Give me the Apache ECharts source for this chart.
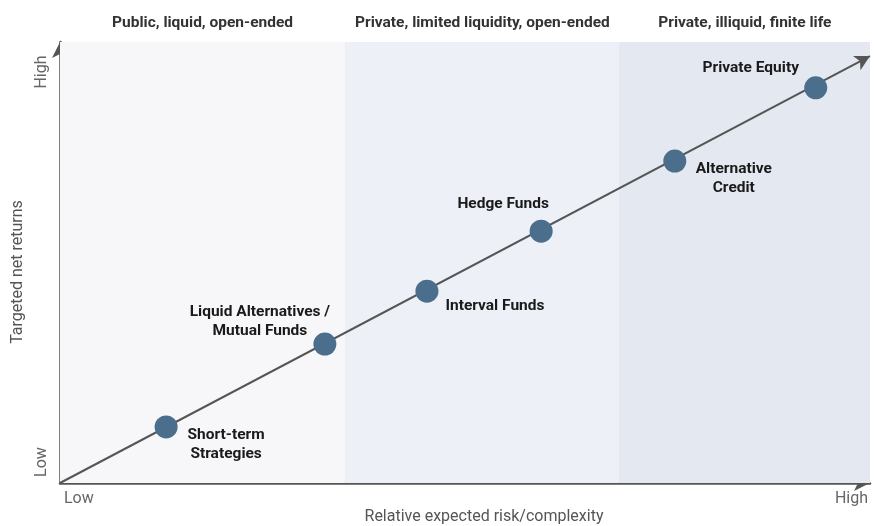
<!DOCTYPE html>
<html>
<head>
<meta charset="utf-8">
<script src="https://cdn.jsdelivr.net/npm/echarts@6/dist/echarts.min.js"></script>
<style>
  html, body { margin: 0; padding: 0; background: #fff; }
  #main { width: 874px; height: 526px; }
</style>
</head>
<body>
<div id="main"></div>
<script>
// 各类投资产品：风险/复杂度 (x) 与 目标净回报 (y)，0-100 相对刻度
var names = ['Short-term\nStrategies', 'Liquid Alternatives /\nMutual Funds', 'Interval Funds',
             'Hedge Funds', 'Alternative\nCredit', 'Private Equity'];
var riskValues = [13.1, 32.7, 45.3, 59.4, 75.9, 93.3];
var returnValues = [12.7, 31.5, 43.5, 57.1, 73.0, 89.6];
// 标签偏移（相对圆点）
var labelOffsets = [[60, 18], [-65, -22], [68, 15], [-38, -27], [59, 18], [-65, -20]];

// 三个区间
var bandNames = ['Public, liquid, open-ended', 'Private, limited liquidity, open-ended', 'Private, illiquid, finite life'];
var bandEdges = [0, 35.2, 69.1, 100];
var bandColors = ['#f7f7f9', '#edf0f7', '#e4e9f1'];

var trendEnd = [100, 96.8];
var axisEndLabels = ['Low', 'High'];

var myChart = echarts.init(document.getElementById('main'));

var gridLeft = 60, gridRight = 4, gridTop = 42, gridBottom = 43;
var plotW = 874 - gridLeft - gridRight;
var smallFont = '16px Roboto, sans-serif';

var points = [];
for (let i = 0; i < names.length; i++) {
  points.push({
    value: [riskValues[i], returnValues[i]],
    label: { formatter: names[i], offset: labelOffsets[i] }
  });
}

var areas = [];
for (let i = 0; i < bandNames.length; i++) {
  areas.push([
    { xAxis: bandEdges[i], itemStyle: { color: bandColors[i] } },
    { xAxis: bandEdges[i + 1] }
  ]);
}

// 区间标题
var headers = [];
for (let i = 0; i < bandNames.length; i++) {
  var cx = gridLeft + (bandEdges[i] + bandEdges[i + 1]) / 2 / 100 * plotW;
  headers.push({
    type: 'text', x: cx, y: 23,
    style: {
      text: bandNames[i], fill: '#333', align: 'center', verticalAlign: 'middle',
      font: 'bold 15.5px Roboto, sans-serif'
    }
  });
}

var option = {
  backgroundColor: '#fff',
  animation: false,
  grid: { left: gridLeft, right: gridRight, top: gridTop, bottom: gridBottom },
  xAxis: {
    type: 'value', min: 0, max: 100,
    splitLine: { show: false },
    axisTick: { show: false },
    axisLabel: { show: false },
    axisLine: { lineStyle: { color: '#555', width: 2.5 }, symbol: ['none', 'arrow'], symbolSize: [12, 16] }
  },
  yAxis: {
    type: 'value', min: 0, max: 100,
    splitLine: { show: false },
    axisTick: { show: false },
    axisLabel: { show: false },
    axisLine: { lineStyle: { color: '#555', width: 2.5 }, symbol: ['none', 'arrow'], symbolSize: [12, 16] }
  },
  graphic: headers.concat([
    { type: 'line', shape: { x1: gridLeft + bandEdges[1] / 100 * plotW, y1: gridTop, x2: gridLeft + bandEdges[1] / 100 * plotW, y2: 482 },
      style: { stroke: '#dadee6', lineWidth: 1.5 } },
    { type: 'line', shape: { x1: gridLeft + bandEdges[2] / 100 * plotW, y1: gridTop, x2: gridLeft + bandEdges[2] / 100 * plotW, y2: 482 },
      style: { stroke: '#d5dae3', lineWidth: 1.5 } },
    { type: 'text', x: 64, y: 499, style: { text: axisEndLabels[0], fill: '#666', font: smallFont, verticalAlign: 'middle' } },
    { type: 'text', x: 868, y: 499, style: { text: axisEndLabels[1], fill: '#666', font: smallFont, align: 'right', verticalAlign: 'middle' } },
    { type: 'text', x: 484, y: 517, style: { text: 'Relative expected risk/complexity', fill: '#555', font: smallFont, align: 'center', verticalAlign: 'middle' } },
    { type: 'text', x: 42, y: 462, rotation: Math.PI / 2, style: { text: axisEndLabels[0], fill: '#666', font: smallFont, align: 'center', verticalAlign: 'middle' } },
    { type: 'text', x: 42, y: 72, rotation: Math.PI / 2, style: { text: axisEndLabels[1], fill: '#666', font: smallFont, align: 'center', verticalAlign: 'middle' } },
    { type: 'text', x: 18, y: 272, rotation: Math.PI / 2, style: { text: 'Targeted net returns', fill: '#555', font: smallFont, align: 'center', verticalAlign: 'middle' } }
  ]),
  series: [
    {
      type: 'scatter',
      data: [],
      silent: true,
      markArea: { silent: true, data: areas },
      markLine: {
        silent: true,
        symbol: ['none', 'arrow'],
        symbolSize: [12, 15],
        label: { show: false },
        lineStyle: { color: '#555', width: 2, type: 'solid' },
        data: [[{ coord: [0, 0] }, { coord: trendEnd }]]
      }
    },
    {
      type: 'scatter',
      z: 5,
      symbolSize: 23,
      itemStyle: { color: '#4a6e8b', opacity: 1 },
      label: {
        show: true, position: 'inside', align: 'center', verticalAlign: 'middle',
        color: '#1a1a1a', fontSize: 15.5, fontWeight: 'bold', lineHeight: 19,
        textBorderWidth: 0, textBorderColor: 'transparent',
        fontFamily: 'Roboto, sans-serif'
      },
      data: points
    }
  ]
};
myChart.setOption(option);
</script>
</body>
</html>
